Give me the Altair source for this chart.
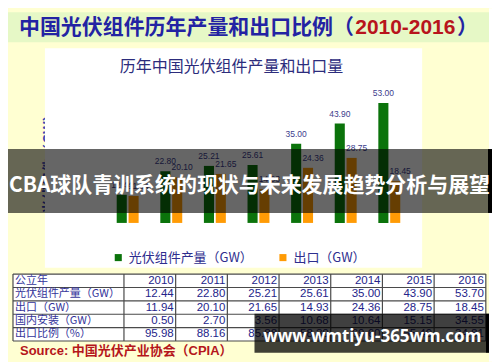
import altair as alt
import pandas as pd

# ---------------- data ----------------
years = ["2010", "2011", "2012", "2013", "2014", "2015", "2016"]
production_chart = [12.44, 22.80, 25.21, 25.61, 35.00, 43.90, 53.00]
export_chart = [11.94, 20.10, 21.65, 14.93, 24.36, 28.75, 18.45]
series_names = ["光伏组件产量（GW）", "出口（GW）"]
series_colors = ["#0B730B", "#FF9B05"]
y_ticks = [0, 10, 20, 30, 40, 50, 60]

table_row_labels = ["公立年", "光伏组件产量（GW）", "出口（GW）", "国内安装（GW）", "出口比例（%）"]
table_production = [12.44, 22.80, 25.21, 25.61, 35.00, 43.90, 53.70]
table_export = [11.94, 20.10, 21.65, 14.93, 24.36, 28.75, 18.45]
table_domestic = [0.50, 2.70, 3.56, 10.68, 10.64, 15.15, 34.55]
table_ratio = [95.98, 88.16, 85.88, 58.30, 69.60, 65.49, 34.81]

header_title = "中国光伏组件历年产量和出口比例（"
header_years = "2010-2016"
chart_title = "历年中国光伏组件产量和出口量"
overlay_text = "CBA球队青训系统的现状与未来发展趋势分析与展望"
source_text = "Source: 中国光伏产业协会（CPIA）"
watermark_text = "www.wmtiyu-365wm.com"

CJK = "Noto Sans CJK SC"
LAT = "'Liberation Sans', 'Noto Sans CJK SC'"

# ---------------- tables built from arrays ----------------
bars_df = pd.DataFrame(
    [{"year": y, "series": series_names[0], "value": v} for y, v in zip(years, production_chart)]
    + [{"year": y, "series": series_names[1], "value": v} for y, v in zip(years, export_chart)]
)

table_vals = []
for r, arr in enumerate([table_production, table_export, table_domestic, table_ratio], start=1):
    for c, v in enumerate(arr):
        table_vals.append({"r": r, "c": c, "v": v})
table_vals_df = pd.DataFrame(table_vals)
table_head_df = pd.DataFrame({"r": [0] * len(years), "c": list(range(len(years))), "year": years})
table_labels_df = pd.DataFrame({"r": list(range(len(table_row_labels))), "label": table_row_labels})
hline_df = pd.DataFrame({"rb": [i - 0.5 for i in range(len(table_row_labels) + 1)]})
vline_df = pd.DataFrame({"cb": list(range(-1, len(years)))})

one = pd.DataFrame({"k": [0]})


def deco_rect(x, x2, y, y2, color, opacity=1.0):
    return alt.Chart(one).mark_rect(color=color, opacity=opacity).encode(
        x=alt.value(x), x2=alt.value(x2), y=alt.value(y), y2=alt.value(y2)
    )


def deco_text(text, x, y, **kw):
    return alt.Chart(one).mark_text(text=text, baseline="middle", **kw).encode(
        x=alt.value(x), y=alt.value(y)
    )


# ---------------- header & panel ----------------
right_white = deco_rect(384, 387, -79, 275, "#FFFFFF")
green_band = deco_rect(-98, 384, -75, -45, "#E6F8C6")
title_blue = deco_text(header_title, -87, -59.5, align="left", font=CJK, fontSize=21,
                       fontWeight="bold", color="#2323A3")
title_red = deco_text(header_years, 250, -59.5, align="left", font=LAT, fontSize=21,
                      fontWeight="bold", color="#B8141C")
title_close = deco_text("）", 352, -59.5, align="left", font=CJK, fontSize=21,
                        fontWeight="bold", color="#2323A3")
white_panel = deco_rect(-61, 317, -39, 181, "#FFFFFF")
inner_title = deco_text(chart_title, 126, -20, align="center", font=CJK, fontSize=16,
                        color="#2C2C7C")

# ---------------- bar chart ----------------
xscale = alt.Scale(domain=years, paddingInner=0.497, paddingOuter=0.25)
yscale = alt.Scale(domain=[0, 60], nice=False, zero=True)
offscale = alt.Scale(domain=series_names, paddingInner=0.15)

base = alt.Chart(bars_df)
bars = base.mark_bar().encode(
    x=alt.X("year:N", scale=xscale, sort=years,
            axis=alt.Axis(title=None, labelAngle=0, ticks=False, domain=True, domainColor="#D9D9D9",
                          labelFontSize=12.5, labelFontWeight="bold", labelColor="#2A2A8C",
                          labelPadding=8, labelFont="Liberation Sans")),
    xOffset=alt.XOffset("series:N", scale=offscale, sort=series_names),
    y=alt.Y("value:Q", scale=yscale,
            axis=alt.Axis(values=y_ticks, format=".2f", grid=True, gridColor="#D9D9D9",
                          domain=False, ticks=False, labelPadding=8, labelFontSize=9.5,
                          labelColor="#4646A0", labelFont="Liberation Sans",
                          title="光伏组件（GW）", titleFont=CJK, titleFontSize=14,
                          titleFontWeight="bold", titleColor="#2E3DB0", titleAngle=270,
                          titleX=-56, titleY=73, titleAlign="center", titleBaseline="middle")),
    color=alt.Color("series:N", scale=alt.Scale(domain=series_names, range=series_colors),
                    legend=alt.Legend(orient="none", legendX=6, legendY=164, direction="horizontal",
                                      title=None, symbolType="square", symbolSize=50,
                                      symbolStrokeWidth=0, labelFont=CJK, labelFontSize=13,
                                      labelColor="#2E2E8E", columnPadding=23, labelLimit=300,
                                      labelOffset=4)),
)


def label_layer(series, dx):
    return base.transform_filter(alt.datum.series == series).mark_text(
        dy=-5, dx=dx, fontSize=8.5, font="Liberation Sans", color="#3C3C8C", baseline="bottom"
    ).encode(
        x=alt.X("year:N", scale=xscale, sort=years),
        xOffset=alt.XOffset("series:N", scale=offscale, sort=series_names),
        y=alt.Y("value:Q", scale=yscale),
        text=alt.Text("value:Q", format=".2f"),
    )


bar_layer = alt.layer(bars, label_layer(series_names[0], 0), label_layer(series_names[1], 5))

# ---------------- dark overlay band ----------------
band = deco_rect(-98, 387, 62, 126, "#000000", 0.6)
band_strip = deco_rect(383, 387, 62, 126, "#000000")
band_text = deco_text(overlay_text, 144, 99, align="center", font=CJK, fontSize=21,
                      fontWeight="bold", color="#FFFFFF")

# ---------------- table ----------------
col_scale = alt.Scale(domain=[0, 6], range=[70, 380.8], nice=False, zero=False)
row_scale = alt.Scale(domain=[0, 4], range=[194, 247.6], nice=False, zero=False)
line_color = "#4A4A4A"

table_fill = deco_rect(-93, 380.8, 187.3, 254.3, "#FFFFFF")
hlines = alt.Chart(hline_df).mark_rule(color=line_color, strokeWidth=1.2).encode(
    y=alt.Y("rb:Q", scale=row_scale, axis=None), x=alt.value(-93), x2=alt.value(380.8))
vlines = alt.Chart(vline_df).mark_rule(color=line_color, strokeWidth=1.2).encode(
    x=alt.X("cb:Q", scale=col_scale, axis=None), y=alt.value(187.3), y2=alt.value(254.3))
left_border = alt.Chart(one).mark_rule(color=line_color, strokeWidth=1.2).encode(
    x=alt.value(-93), y=alt.value(187.3), y2=alt.value(254.3))
t_head = alt.Chart(table_head_df).mark_text(align="right", baseline="middle", dx=-2, fontSize=11.5,
                                            font="Liberation Sans", color="#24248A").encode(
    x=alt.X("c:Q", scale=col_scale, axis=None), y=alt.Y("r:Q", scale=row_scale, axis=None),
    text="year:N")
t_vals = alt.Chart(table_vals_df).mark_text(align="right", baseline="middle", dx=-2, fontSize=11.5,
                                            font="Liberation Sans", color="#24248A").encode(
    x=alt.X("c:Q", scale=col_scale, axis=None), y=alt.Y("r:Q", scale=row_scale, axis=None),
    text=alt.Text("v:Q", format=".2f"))
t_labels = alt.Chart(table_labels_df).mark_text(align="left", baseline="middle", fontSize=11,
                                                font=CJK, color="#34349A").encode(
    x=alt.value(-91), y=alt.Y("r:Q", scale=row_scale, axis=None), text="label:N")
table_layer = alt.layer(table_fill, hlines, vlines, left_border, t_head, t_vals, t_labels)

# ---------------- source & watermark ----------------
source = deco_text(source_text, -86, 264, align="left", font=LAT, fontSize=13,
                   fontWeight="bold", color="#B5161B")
wm_box = deco_rect(149, 384, 227, 266, "#000000", 0.75)
wm_strip = deco_rect(381, 384, 227, 266, "#000000")
wm_text = deco_text(watermark_text, 267, 250, align="center", font="'Noto Sans', 'Open Sans'",
                    fontSize=17, fontWeight="bold", color="#FFFFFF")

chart = alt.layer(
    right_white, green_band, title_blue, title_red, title_close, white_panel, inner_title,
    bar_layer,
    band, band_strip, band_text,
    table_layer,
    source, wm_box, wm_strip, wm_text,
).resolve_scale(x="independent", y="independent").properties(
    width=306, height=136,
    autosize=alt.AutoSizeParams(type="none"),
    padding={"left": 98, "top": 79, "right": 81, "bottom": 139},
).configure(background="#FFFFD2").configure_view(stroke="transparent")

chart.save("out.html", embed_options={"renderer": "svg", "actions": False})
